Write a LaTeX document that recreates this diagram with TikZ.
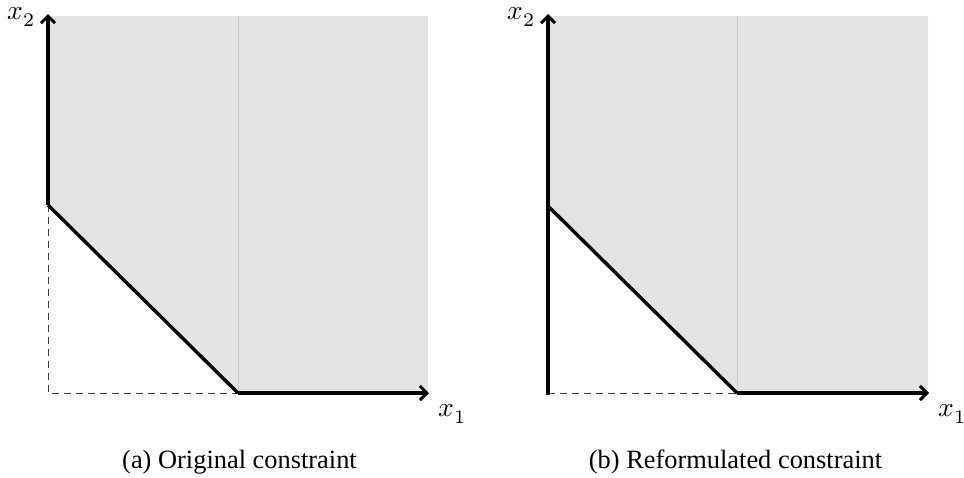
\documentclass[tikz,border=0pt]{standalone}
\usepackage{fontspec}
\setmainfont{Liberation Serif}
\usepackage{unicode-math}
\setmathfont{Latin Modern Math}
\usetikzlibrary{arrows.meta}
\begin{document}
\begin{tikzpicture}[x=1pt,y=-1pt,
  axis/.style={line width=3.4pt,-{Straight Barb[length=7pt,width=14pt,line width=3pt]}},
  bound/.style={line width=3.4pt},
  guide/.style={line width=0.9pt,dash pattern=on 7pt off 5pt,black!75},
  region/.style={fill=black!11},
  seam/.style={line width=0.6pt,black!20},
  lbl/.style={scale=2.75,inner sep=0pt},
  captext/.style={font=\fontsize{26.4}{30}\selectfont,inner sep=0pt,anchor=base}]
\useasboundingbox (0,0) rectangle (964,477);
% ---- (a)
\coordinate (aO) at (48,393);
\coordinate (aY) at (48,205);
\coordinate (aX) at (238,393);
\coordinate (aXe) at (429,393);
\coordinate (aYe) at (48,14);
\fill[region] (aY) -- (48,16) -- (428,16) -- (428,393) -- (aX) -- cycle;
\draw[seam] (238,16) -- (aX);
\draw[guide] (aY) -- (aO) -- (aX);
\draw[bound] (aY) -- (aX);
\draw[axis] (aY) -- (aYe);
\draw[axis] (aX) -- (aXe);
\node[lbl] (ax2) at (22,17) {$x_2$};
\node[lbl] (ax1) at (453,414) {$x_1$};
\node[captext] (acap) at (239.5,468) {(a) Original constraint};
% ---- (b)
\coordinate (bO) at (548,393);
\coordinate (bY) at (548,206);
\coordinate (bX) at (737,393);
\coordinate (bXe) at (929,393);
\coordinate (bYe) at (548,14);
\coordinate (bOb) at (548,395);
\fill[region] (bY) -- (548,16) -- (928,16) -- (928,393) -- (bX) -- cycle;
\draw[seam] (737,16) -- (bX);
\draw[guide] (bO) -- (bX);
\draw[bound] (bY) -- (bX);
\draw[axis] (bOb) -- (bYe);
\draw[axis] (bX) -- (bXe);
\node[lbl] (bx2) at (522,17) {$x_2$};
\node[lbl] (bx1) at (953,414) {$x_1$};
\node[captext] (bcap) at (735.5,468) {(b) Reformulated constraint};
\end{tikzpicture}
\end{document}
